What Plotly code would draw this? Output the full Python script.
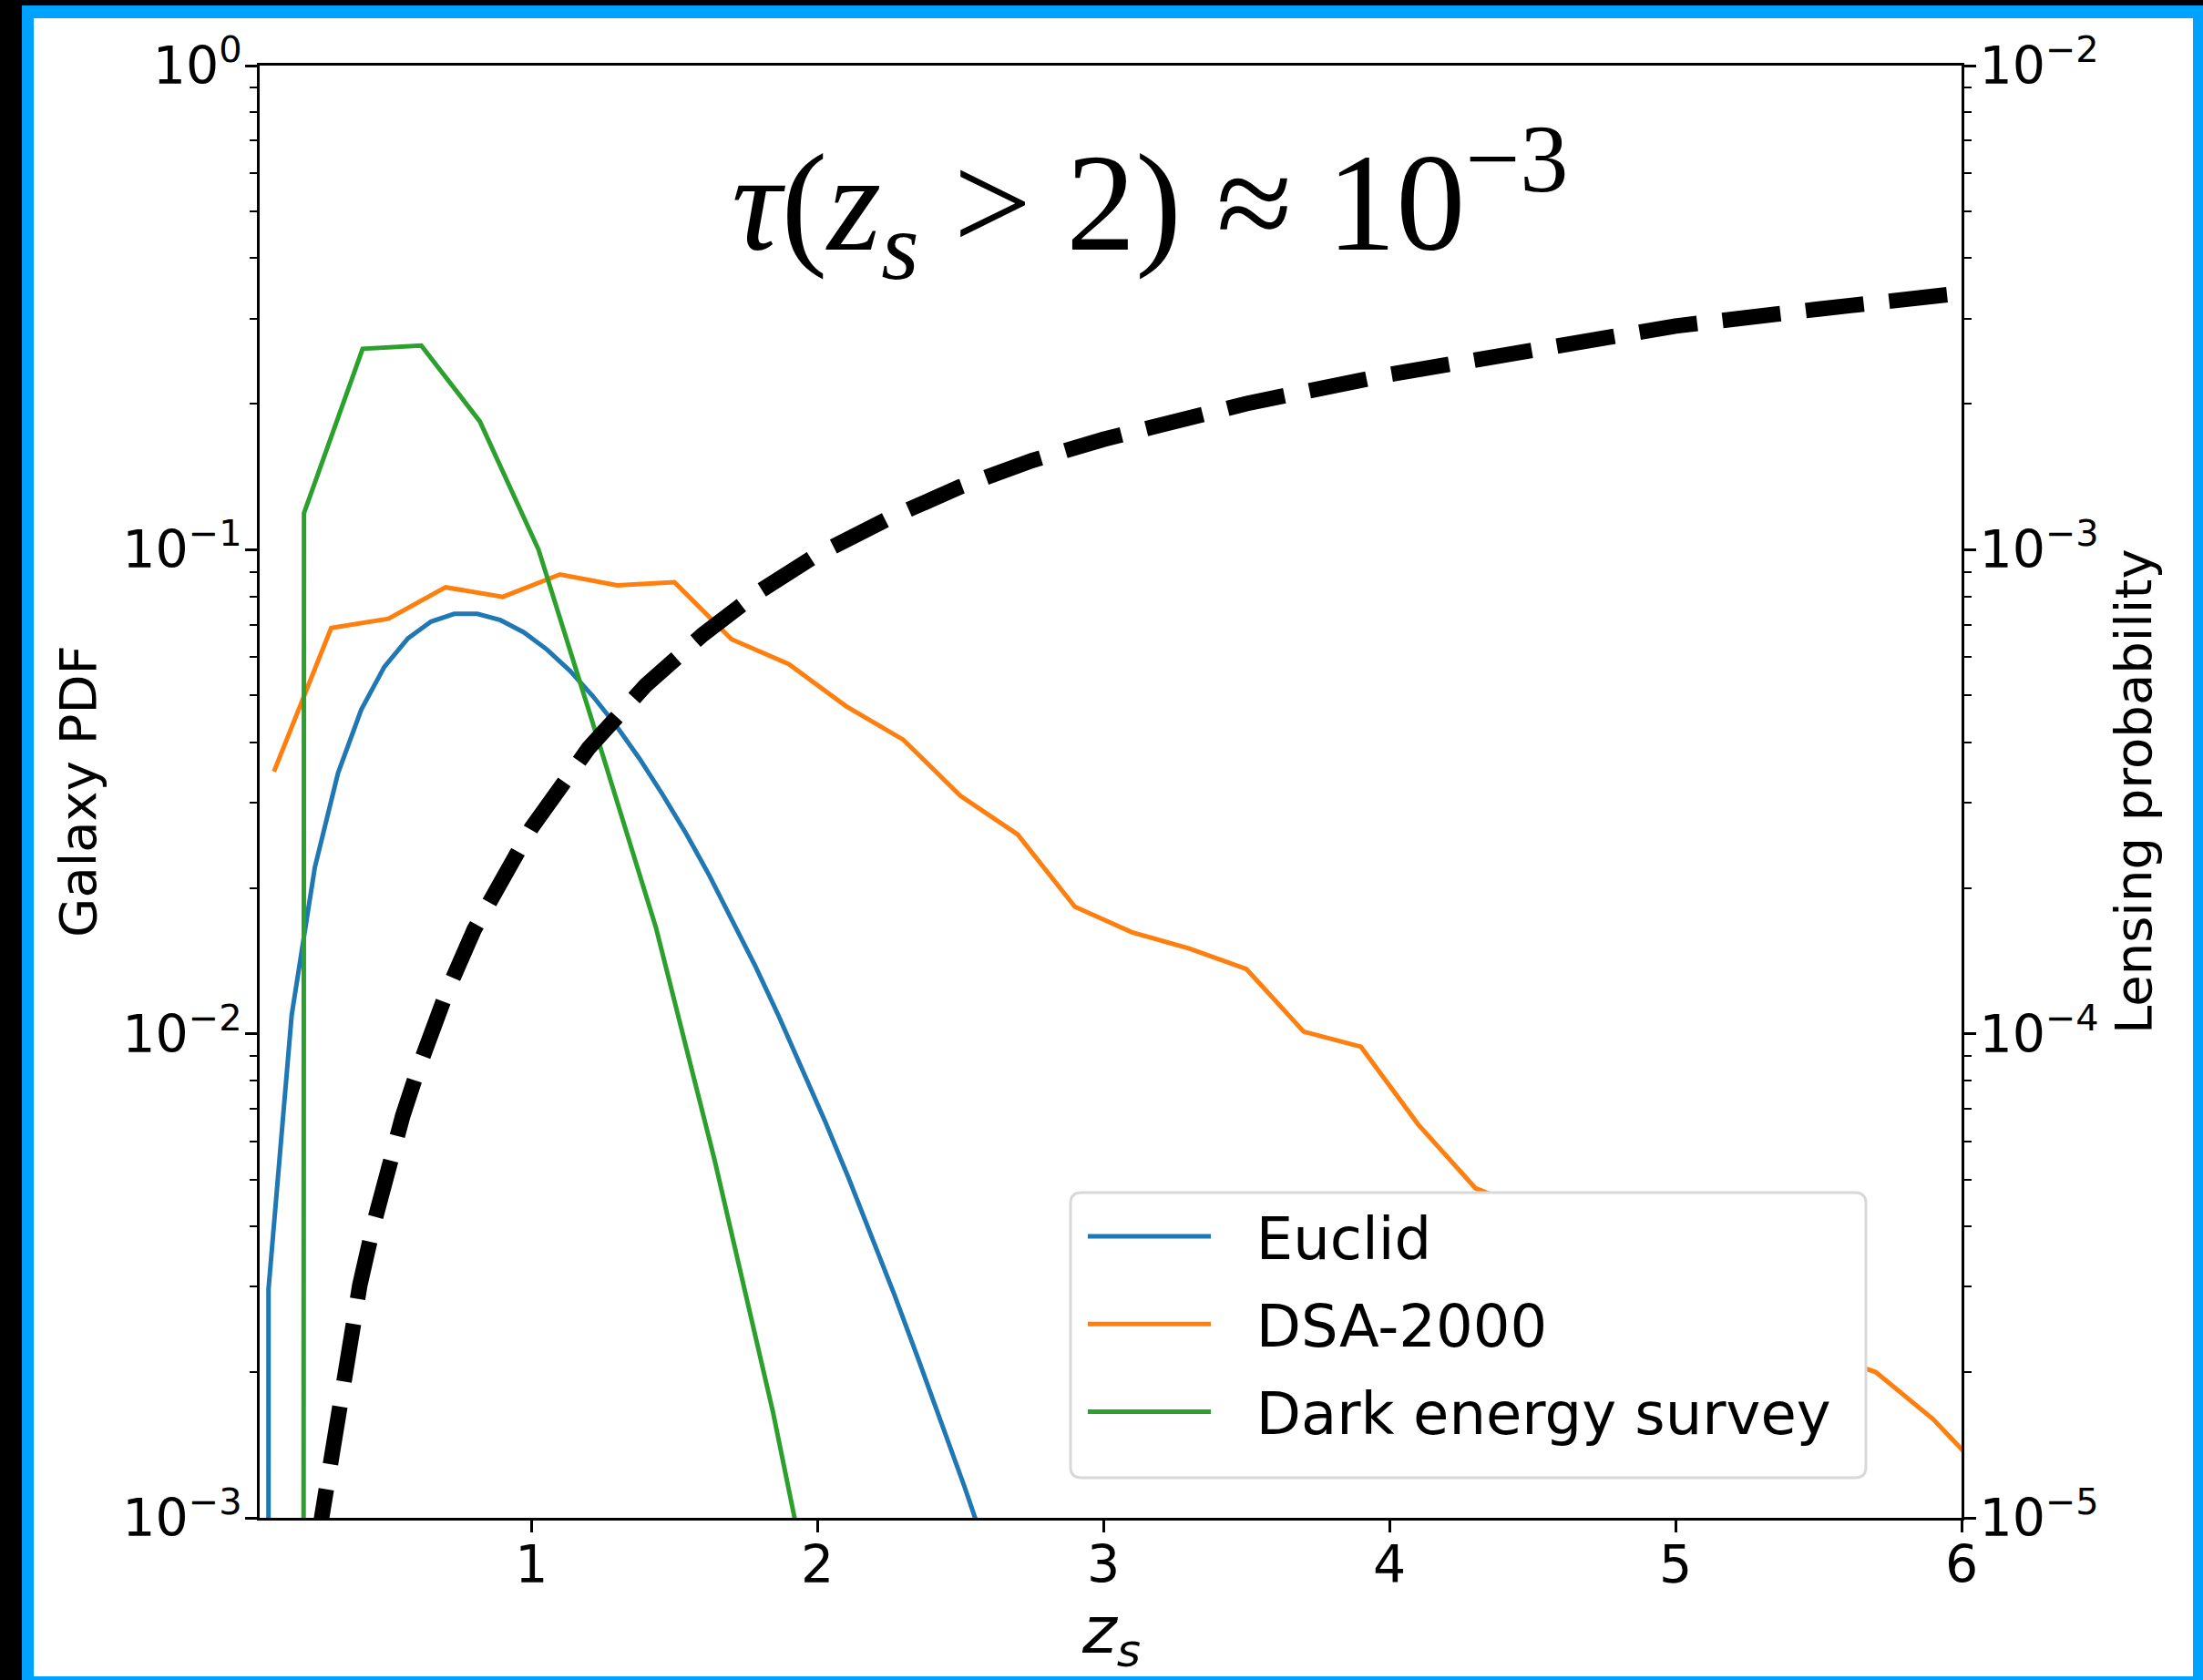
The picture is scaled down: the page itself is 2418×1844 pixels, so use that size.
import plotly.graph_objects as go

# ---------------- data ----------------
z_euclid = [0.0, 0.081, 0.162, 0.243, 0.324, 0.405, 0.486, 0.568, 0.649, 0.730,
            0.811, 0.892, 0.973, 1.054, 1.135, 1.216, 1.297, 1.378, 1.459, 1.541,
            1.622, 1.703, 1.784, 1.865, 1.946, 2.027, 2.108, 2.189, 2.270, 2.351,
            2.432, 2.514, 2.595, 2.676]
pdf_euclid = [0.0, 0.00297, 0.01093, 0.02208, 0.03455, 0.04670, 0.05731, 0.06555, 0.07103, 0.07369,
              0.07369, 0.07151, 0.06752, 0.06222, 0.05619, 0.04973, 0.04326, 0.03700, 0.03118, 0.02591,
              0.02124, 0.01719, 0.01375, 0.01087, 0.00850, 0.00659, 0.00505, 0.00383, 0.00288, 0.00214,
              0.00159, 0.00116, 0.00084, 0.00061]

z_dsa = [0.1, 0.3, 0.5, 0.7, 0.9, 1.1, 1.3, 1.5, 1.7, 1.9,
         2.1, 2.3, 2.5, 2.7, 2.9, 3.1, 3.3, 3.5, 3.7, 3.9,
         4.1, 4.3, 4.5, 4.7, 4.9, 5.1, 5.3, 5.5, 5.7, 5.9, 6.1]
pdf_dsa = [0.0348, 0.0689, 0.0720, 0.0836, 0.0799, 0.0889, 0.0844, 0.0857, 0.0653, 0.0580,
           0.0475, 0.0405, 0.0310, 0.0258, 0.0183, 0.0162, 0.0150, 0.0136, 0.0101, 0.0094,
           0.0065, 0.0048, 0.0043, 0.0036, 0.0032, 0.0028, 0.0025, 0.0022, 0.0020, 0.0016, 0.0012]

z_des = [0.0, 0.205, 0.41, 0.615, 0.82, 1.025, 1.23, 1.435, 1.64, 1.845, 2.05]
pdf_des = [0.0, 0.119, 0.260, 0.264, 0.184, 0.100, 0.041, 0.0166, 0.0055, 0.00165, 0.00042]

z_tau = [0.25, 0.3, 0.35, 0.4, 0.45, 0.5, 0.55, 0.6, 0.65, 0.7, 0.8, 0.9, 1.0, 1.2, 1.4,
         1.6, 1.8, 2.0, 2.25, 2.5, 2.75, 3.0, 3.5, 4.0, 4.5, 5.0, 5.5, 6.0]
tau = [8.71e-6, 1.318e-5, 2.09e-5, 3.02e-5, 4.07e-5, 5.37e-5, 6.76e-5, 8.32e-5, 1.0e-4, 1.202e-4,
       1.641e-4, 2.113e-4, 2.661e-4, 3.89e-4, 5.25e-4, 6.68e-4, 8.22e-4, 9.77e-4, 1.161e-3, 1.349e-3,
       1.528e-3, 1.690e-3, 2.004e-3, 2.301e-3, 2.606e-3, 2.897e-3, 3.141e-3, 3.388e-3]

series_names = ["Euclid", "DSA-2000", "Dark energy survey"]
series_colors = ["#1f77b4", "#ff7f0e", "#2ca02c"]

x_tickvals = [1, 2, 3, 4, 5, 6]
x_ticktext = ["1", "2", "3", "4", "5", "6"]
yl_tickvals = [1e-3, 1e-2, 1e-1, 1.0]
yl_ticktext = ["10<sup>\u22123</sup>", "10<sup>\u22122</sup>", "10<sup>\u22121</sup>", "10<sup>0</sup>"]
yr_tickvals = [1e-5, 1e-4, 1e-3, 1e-2]
yr_ticktext = ["10<sup>\u22125</sup>", "10<sup>\u22124</sup>", "10<sup>\u22123</sup>", "10<sup>\u22122</sup>"]

# ---------------- helpers ----------------
FLOOR = 1e-300  # emulate matplotlib clipping of non-positive values on log axes


def clip_log(vals):
    return [v if v > 0 else FLOOR for v in vals]


def minor_vals(lo_exp, hi_exp):
    return [m * 10.0 ** e for e in range(lo_exp, hi_exp) for m in range(2, 10)]


FONT = "DejaVu Sans"
W, H = 2418, 1844
L, R, T, B = 285, 265, 72, 178
PW, PH = W - L - R, H - T - B


def px(x):
    return (x - L) / PW


def py(y):
    return (H - B - y) / PH


def rounded_rect_path(x0p, x1p, ytop, ybot, r):
    a0, a1 = px(x0p), px(x1p)
    b1, b0 = py(ytop), py(ybot)
    rx, ry = r / PW, r / PH
    return (f"M {a0 + rx},{b1} L {a1 - rx},{b1} Q {a1},{b1} {a1},{b1 - ry} "
            f"L {a1},{b0 + ry} Q {a1},{b0} {a1 - rx},{b0} "
            f"L {a0 + rx},{b0} Q {a0},{b0} {a0},{b0 + ry} "
            f"L {a0},{b1 - ry} Q {a0},{b1} {a0 + rx},{b1} Z")


fig = go.Figure()
for zz, vv, name, col in zip([z_euclid, z_dsa, z_des], [pdf_euclid, pdf_dsa, pdf_des],
                             series_names, series_colors):
    fig.add_trace(go.Scatter(x=zz, y=clip_log(vv), mode="lines",
                             name="\u2002\u2009" + name,
                             legendgroup=name,
                             line=dict(color=col, width=5), yaxis="y"))

fig.add_trace(go.Scatter(x=z_tau, y=tau, mode="lines", showlegend=False,
                         line=dict(color="black", width=17, dash="64px,28px"),
                         yaxis="y2"))

axis_common = dict(showline=True, linecolor="black", linewidth=3, ticks="outside",
                   tickcolor="black", tickwidth=3, ticklen=13, showgrid=False, zeroline=False,
                   tickfont=dict(family=FONT, size=57, color="black"))

fig.update_layout(
    width=W, height=H,
    margin=dict(l=L, r=R, t=T, b=B, autoexpand=False),
    paper_bgcolor="#00a2ff", plot_bgcolor="white",
    showlegend=True,
    xaxis=dict(range=[0.05, 6], tickvals=x_tickvals, ticktext=x_ticktext, mirror=True,
               ticklabelstandoff=-13, **axis_common),
    yaxis=dict(type="log", range=[-3, 0], tickvals=yl_tickvals, ticktext=yl_ticktext,
               ticklabelstandoff=-8,
               minor=dict(ticks="outside", ticklen=8, tickwidth=2, tickcolor="black",
                          tickvals=minor_vals(-3, 0), showgrid=False),
               **axis_common),
    yaxis2=dict(type="log", range=[-5, -2], tickvals=yr_tickvals, ticktext=yr_ticktext,
                overlaying="y", side="right", ticklabelstandoff=-8,
                minor=dict(ticks="outside", ticklen=8, tickwidth=2, tickcolor="black",
                           tickvals=minor_vals(-5, -2), showgrid=False),
                **axis_common),
    legend=dict(x=px(1175), y=py(1309), xanchor="left", yanchor="top",
                bgcolor="rgba(0,0,0,0)", borderwidth=0,
                font=dict(family=FONT, size=64, color="black"),
                itemwidth=135, indentation=14, tracegroupgap=10),
)

# frame: white page, blue border, black strips (screenshot framing)
fig.add_shape(type="rect", xref="paper", yref="paper", layer="below",
              x0=px(37), x1=px(2407), y0=py(1840), y1=py(20),
              fillcolor="white", line=dict(width=0))
fig.add_shape(type="rect", xref="paper", yref="paper", layer="below",
              x0=px(0), x1=px(24), y0=py(H), y1=py(0),
              fillcolor="black", line=dict(width=0))
fig.add_shape(type="rect", xref="paper", yref="paper", layer="below",
              x0=px(0), x1=px(W), y0=py(6), y1=py(0),
              fillcolor="black", line=dict(width=0))

# legend frame (rounded, like matplotlib's fancybox)
fig.add_shape(type="path", xref="paper", yref="paper", layer="above",
              path=rounded_rect_path(1175, 2048, 1309, 1622, 12),
              fillcolor="white", line=dict(color="#d8d8d8", width=3))

# axis titles and in-plot label
fig.add_annotation(text="Galaxy PDF", xref="paper", yref="paper", x=px(85), y=0.5,
                   textangle=-90, showarrow=False, xanchor="center", yanchor="middle",
                   font=dict(family=FONT, size=56, color="black"))
fig.add_annotation(text="Lensing probability", xref="paper", yref="paper", x=px(2341), y=0.5,
                   textangle=-90, showarrow=False, xanchor="center", yanchor="middle",
                   font=dict(family=FONT, size=56, color="black"))
fig.add_annotation(text="<i>z</i><sub><i>s</i></sub>", xref="paper", yref="paper",
                   x=0.5, y=py(1794), showarrow=False, xanchor="center", yanchor="middle",
                   font=dict(family=FONT, size=72, color="black"))
fig.add_annotation(text="<i>\u03c4</i>(<i>z</i><sub><i>s</i></sub> > 2) \u2248 10<sup>\u22123</sup>",
                   xref="paper", yref="paper", x=px(1262), y=py(222), showarrow=False,
                   xanchor="center", yanchor="middle",
                   font=dict(family="Liberation Serif", size=152, color="black"))

fig.write_html("out.html", config={"displayModeBar": False},
               post_script="document.body.style.margin='0px';"
                           "document.body.style.overflow='hidden';")
